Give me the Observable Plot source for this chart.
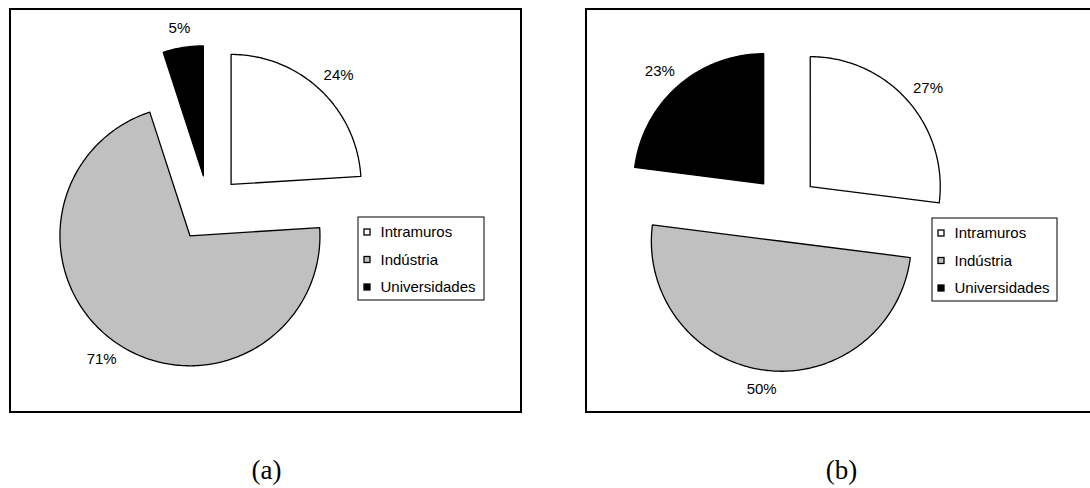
<!DOCTYPE html>
<html>
<head>
<meta charset="utf-8">
<script src="https://cdn.jsdelivr.net/npm/d3@7"></script>
<script src="https://cdn.jsdelivr.net/npm/@observablehq/plot@0.6"></script>
<style>
  html, body { margin: 0; padding: 0; background: #fff; overflow: hidden; }
</style>
</head>
<body>
<div id="chart"></div>
<script>
// Share of each performer, in percent, for the two panels.
const categories = ["Intramuros", "Indústria", "Universidades"];
const panels = ["(a)", "(b)"];
const sharesA = [24, 71, 5];
const sharesB = [27, 50, 23];

// Page layout (pixels).
const W = 1090, H = 488;
const layout = [
  { box: [10, 9, 521, 412],   center: [208, 208], legend: [358, 217, 484, 300], caption: [266, 470] },
  { box: [586, 9, 1097, 412], center: [785, 208], legend: [932, 218, 1057, 301], caption: [841, 470] }
];
const R = 130, EXPLODE = 33, LABEL_GAP = 12;
const LABEL_SIZE = 15;
const fills = ["#ffffff", "#c0c0c0", "#000000"];
const sansFont = "'Liberation Sans', Arial, Helvetica, sans-serif";
const serifFont = "'Liberation Serif', 'Times New Roman', Times, serif";

// Angles run clockwise from twelve o'clock.
const pt = (c, r, a) => [c[0] + r * Math.sin(a), c[1] - r * Math.cos(a)];

const slicePoints = [];
const sliceLabels = [];
[sharesA, sharesB].forEach((shares, p) => {
  const c = layout[p].center;
  const total = d3.sum(shares);
  let start = 0;
  shares.forEach((v, i) => {
    const a0 = start / total * 2 * Math.PI;
    const a1 = (start + v) / total * 2 * Math.PI;
    start += v;
    const mid = (a0 + a1) / 2;
    const apex = pt(c, EXPLODE, mid);
    const key = panels[p] + categories[i];
    slicePoints.push({ key, category: categories[i], x: apex[0], y: apex[1] });
    const n = Math.max(2, Math.ceil((a1 - a0) * 180 / Math.PI));
    for (let k = 0; k <= n; k++) {
      const q = pt(apex, R, a0 + (a1 - a0) * k / n);
      slicePoints.push({ key, category: categories[i], x: q[0], y: q[1] });
    }
    // Label box sits just outside the rim, pushed out by half its own size.
    const text = `${v}%`;
    const halfW = ((text.length - 1) * 0.556 + 0.889) * LABEL_SIZE / 2;
    const halfH = LABEL_SIZE / 2;
    const rim = pt(c, EXPLODE + R + LABEL_GAP, mid);
    sliceLabels.push({
      x: rim[0] + halfW * Math.sin(mid),
      y: rim[1] - halfH * Math.cos(mid),
      text
    });
  });
});

const boxes = layout.map(d => ({ x1: d.box[0], y1: d.box[1], x2: d.box[2], y2: d.box[3] }));
const legendBoxes = layout.map(d => ({ x1: d.legend[0], y1: d.legend[1], x2: d.legend[2], y2: d.legend[3] }));
const legendRows = layout.flatMap(d => categories.map((name, i) => ({
  name,
  left: d.legend[0],
  y: d.legend[1] + 15 + i * 27.5
})));
const captions = layout.map((d, p) => ({ x: d.caption[0], y: d.caption[1], text: panels[p] }));

const chart = Plot.plot({
  width: W,
  height: H,
  margin: 0,
  x: { domain: [0, W], range: [0, W], axis: null },
  y: { domain: [0, H], range: [0, H], axis: null },
  color: { type: "ordinal", domain: categories, range: fills },
  style: { fontFamily: sansFont, background: "#fff", color: "#000" },
  marks: [
    Plot.rect(boxes, { x1: "x1", y1: "y1", x2: "x2", y2: "y2", fill: "none", stroke: "#000", strokeWidth: 2 }),
    Plot.line(slicePoints, {
      x: "x", y: "y", z: "key", fill: "category",
      stroke: "#000", strokeWidth: 1.3, curve: "linear-closed"
    }),
    Plot.text(sliceLabels, { x: "x", y: "y", text: "text", fontSize: LABEL_SIZE, fill: "#000" }),
    Plot.rect(legendBoxes, { x1: "x1", y1: "y1", x2: "x2", y2: "y2", fill: "#fff", stroke: "#000", strokeWidth: 1 }),
    Plot.rect(legendRows, {
      x1: d => d.left + 6, x2: d => d.left + 12,
      y1: d => d.y - 3, y2: d => d.y + 3,
      fill: "name", stroke: "#000", strokeWidth: 1.3
    }),
    Plot.text(legendRows, {
      x: d => d.left + 22, y: "y", text: "name",
      textAnchor: "start", fontSize: 15, fill: "#000"
    }),
    Plot.text(captions, { x: "x", y: "y", text: "text", fontSize: 27, fontFamily: serifFont, fill: "#000" })
  ]
});

document.getElementById("chart").appendChild(chart);
</script>
</body>
</html>
